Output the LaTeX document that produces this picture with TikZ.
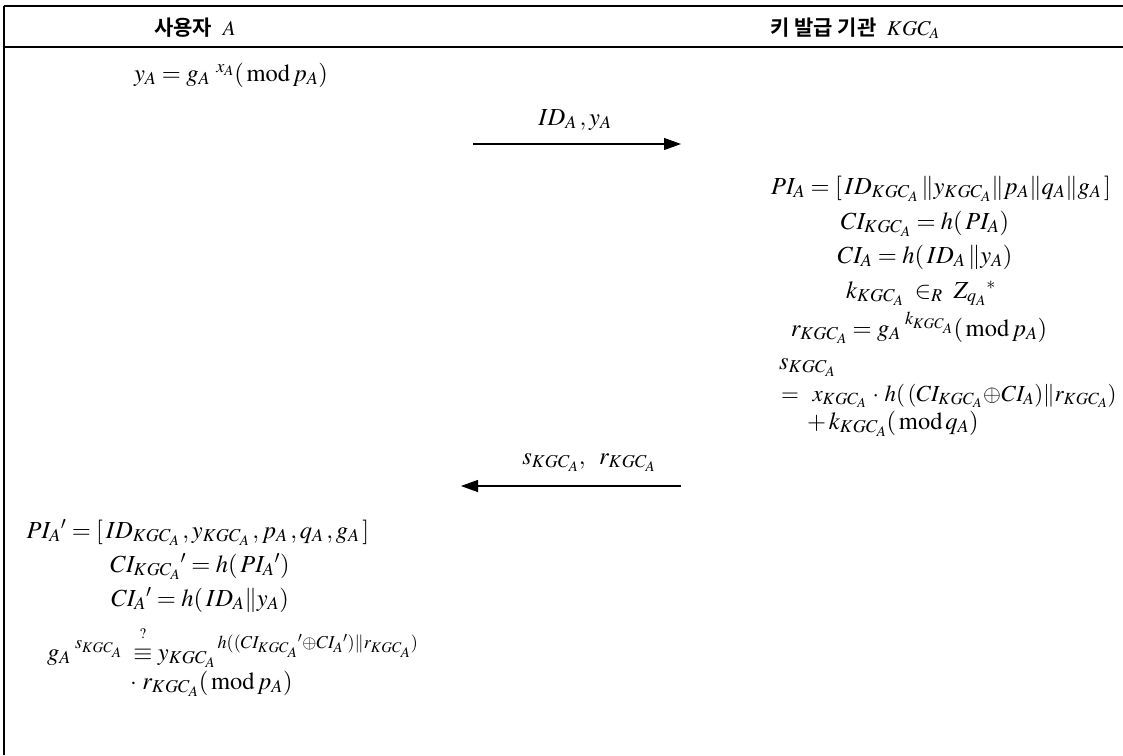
\documentclass[tikz,border=0pt]{standalone}
\usepackage{mathptmx}
\usepackage{fontspec}
\setmainfont{Liberation Serif}
\newfontfamily\krfont{Noto Sans CJK KR}[BoldFont={Noto Sans CJK KR Bold}]
\usetikzlibrary{arrows.meta}
\tikzset{
  eq/.style={inner sep=0pt, anchor=base, font=\fontsize{24.5}{28}\selectfont},
  eqw/.style={eq, anchor=base west},
  hdr/.style={inner sep=0pt, anchor=base, font=\fontsize{21}{24}\selectfont},
  rule/.style={line width=1.2pt, black},
  msg/.style={line width=1.1pt, -{Triangle[length=17pt,width=12pt]}}
}
\begin{document}
\begin{tikzpicture}[x=1pt,y=-1pt]
\useasboundingbox (0,0) rectangle (1123,755);
% table rules
\coordinate (tl) at (4,6);
\coordinate (tr) at (1123,6);
\coordinate (hl) at (4,47);
\coordinate (hr) at (1123,47);
\coordinate (bl) at (4,755);
\draw[rule] (tl) -- (tr);
\draw[rule] (hl) -- (hr);
\draw[rule] (tl) -- (bl);
% headers
\node[hdr] (hA) at (195,35) {{\krfont\bfseries 사용자}\ \ $A$};
\node[hdr] (hK) at (855,35) {{\krfont\bfseries 키 발급 기관}\ \ $KGC_A$};
% user A first step
\node[eq] (yA) at (231,81) {$y_A = {g_A}^{\;\,x_A}(\,\mathrm{mod}\,p_A)$};
% message 1
\node[eq] (m1) at (575,125) {$ID_A\,,y_A$};
\coordinate (a1s) at (473,144);
\coordinate (a1e) at (681,144);
\draw[msg] (a1s) -- (a1e);
% KGC computations
\node[eq] (pi) at (941,194) {$PI_A = [\,ID_{KGC_A}\,\Vert y_{KGC_A}\Vert p_A\Vert q_A\Vert g_A\,]$};
\node[eq] (cik) at (925,229) {$CI_{KGC_A} = h(\,PI_A)$};
\node[eq] (cia) at (925,263) {$CI_A = h(\,ID_A\,\Vert y_A)$};
\node[eq] (kk) at (921,298) {$k_{KGC_A}\;\in_R\;{Z_{q_A}}^{*}$};
\node[eq] (rk) at (919,336) {$r_{KGC_A} = {g_A}^{\;k_{KGC_A}}(\,\mathrm{mod}\,p_A)$};
\node[eqw] (sk) at (779,369) {$s_{KGC_A}$};
\node[eqw, font=\fontsize{23}{26}\selectfont] (sk2) at (781,401) {$=\ \,x_{KGC_A}\,\cdot\, h(\,(CI_{KGC_A}\!\oplus\! CI_A)\Vert r_{KGC_A})$};
\node[eqw] (sk3) at (807,429) {$+\,k_{KGC_A}(\,\mathrm{mod}\,q_A)$};
% message 2
\node[eq] (m2) at (589,464) {$s_{KGC_A},\;\;r_{KGC_A}$};
\coordinate (a2s) at (681,486);
\coordinate (a2e) at (461,486);
\draw[msg] (a2s) -- (a2e);
% user A verification
\node[eq] (pia) at (198,538) {$PI_A{}' = [\,ID_{KGC_A}\,,y_{KGC_A}\,,p_A\,,q_A\,,g_A\,]$};
\node[eq] (cika) at (200,572) {$CI_{KGC_A}{}' = h(\,PI_A{}')$};
\node[eq] (ciaa) at (200,606) {$CI_A{}' = h(\,ID_A\Vert y_A)$};
\node[eqw] (ver) at (47,660) {${g_A}^{\;s_{KGC_A}}\;\stackrel{\raisebox{5pt}{$\scriptscriptstyle ?$}}{\equiv}{y_{KGC_A}}^{\,h((CI_{KGC_A}{}'\oplus CI_A{}')\Vert r_{KGC_A})}$};
\node[eqw] (ver2) at (130,689) {$\cdot\;r_{KGC_A}(\,\mathrm{mod}\,p_A)$};
\end{tikzpicture}
\end{document}
